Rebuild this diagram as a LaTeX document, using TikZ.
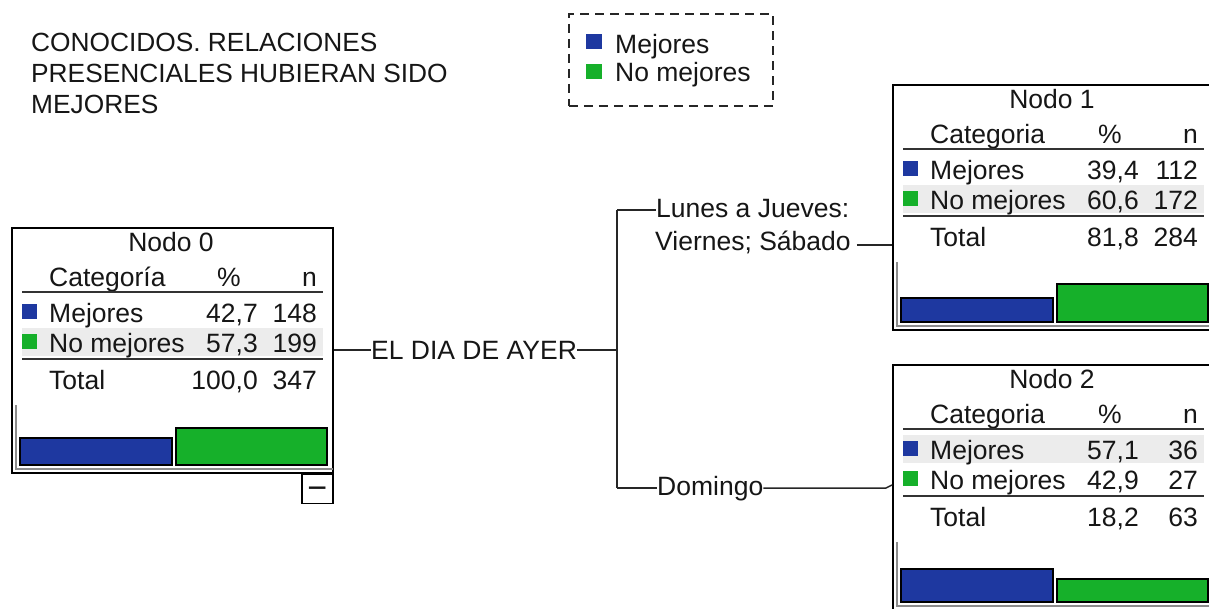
\documentclass[tikz,border=0pt]{standalone}
\usepackage{fontspec}
\setmainfont{Liberation Sans}
\definecolor{barblue}{RGB}{30,56,160}
\definecolor{bargreen}{RGB}{22,176,42}
\definecolor{txtcol}{RGB}{22,22,22}
\definecolor{hlcol}{RGB}{236,236,236}
\newcommand{\pre}{n0}
\newcommand{\nodetitle}{Nodo 0}
\newcommand{\headtxt}{Categoría}
\newcommand{\tabrows}[9]{%
  \fill[hlcol] (11,#7-24) rectangle (312,#7+4);
  \node[tx, anchor=base] (\pre-title) at (160,24) {\nodetitle};
  \node[tx, anchor=base west] (\pre-hc) at (38,59) {\headtxt};
  \node[tx, anchor=base] (\pre-hp) at (218,59) {\%};
  \node[tx, anchor=base east] (\pre-hn) at (306,59) {n};
  \draw[rulel] (11,65) -- (312,65);
  \fill[barblue] (11,77) rectangle (26,92);
  \node[tx, anchor=base west] (\pre-l1) at (38,95) {Mejores};
  \node[tx, anchor=base east] (\pre-p1) at (247,95) {#1};
  \node[tx, anchor=base east] (\pre-n1) at (306,95) {#2};
  \fill[bargreen] (11,107) rectangle (26,122);
  \node[tx, anchor=base west] (\pre-l2) at (38,125) {No mejores};
  \node[tx, anchor=base east] (\pre-p2) at (247,125) {#3};
  \node[tx, anchor=base east] (\pre-n2) at (306,125) {#4};
  \draw[rulel] (11,132) -- (312,132);
  \node[tx, anchor=base west] (\pre-lt) at (38,162) {Total};
  \node[tx, anchor=base east] (\pre-pt) at (247,162) {#5};
  \node[tx, anchor=base east] (\pre-nt) at (306,162) {#6};
  \draw[framel] (5,178) -- (5,242) -- (322,242);
  \draw[barl, fill=barblue] (9,238-#8) rectangle (161,238);
  \draw[barl, fill=bargreen] (165,238-#9) rectangle (316,238);
}
\begin{document}
\begin{tikzpicture}[x=1pt,y=-1pt,
  tx/.style={font=\fontsize{26.5}{31}\selectfont, text=txtcol, inner sep=0pt},
  box/.style={draw=black, line width=1.6pt, rectangle, inner sep=0pt, anchor=north west, fill=white},
  rulel/.style={line width=1.8pt, draw=black!80},
  framel/.style={line width=1.6pt, draw=black!45},
  barl/.style={line width=1.4pt, draw=black},
  conn/.style={line width=1.5pt, draw=black!85}]
\useasboundingbox (0,0) rectangle (1209,608);
\fill[white] (0,0) rectangle (1209,608);

% title
\node[tx, font=\fontsize{26.3}{31}\selectfont, anchor=north west, align=left] (title) at (31,33)
  {CONOCIDOS. RELACIONES\\PRESENCIALES HUBIERAN SIDO\\MEJORES};

% legend
\node[draw=black!85, dashed, dash pattern=on 9pt off 6pt, line width=1.5pt, minimum width=204pt,
  minimum height=92pt, anchor=north west, inner sep=0pt] (legend) at (568,13) {};
\fill[barblue] (586,34) rectangle (602,49);
\node[tx, anchor=base west] (legm) at (615,53) {Mejores};
\fill[bargreen] (586,64) rectangle (602,79);
\node[tx, anchor=base west] (legn) at (615,81) {No mejores};

% node 0
\node[box, minimum width=321pt, minimum height=245pt] (n0) at (11,227) {};
\begin{scope}[shift={(11,227)}]
  \renewcommand{\pre}{n0}\renewcommand{\nodetitle}{Nodo 0}\renewcommand{\headtxt}{Categoría}
  \tabrows{42,7}{148}{57,3}{199}{100,0}{347}{125}{27}{37}
\end{scope}
\node[draw=black, line width=1.6pt, minimum width=31pt, minimum height=29pt, anchor=north east,
  inner sep=0pt] (mbox) at (n0.south east) {};
\node[inner sep=0pt, font=\fontsize{34}{34}\selectfont, text=txtcol] (mminus) at ([yshift=-4pt]mbox.center) {−};

% node 1
\node[box, minimum width=330pt, minimum height=245pt] (n1) at (892,84) {};
\begin{scope}[shift={(892,84)}]
  \renewcommand{\pre}{n1}\renewcommand{\nodetitle}{Nodo 1}\renewcommand{\headtxt}{Categoria}
  \tabrows{39,4}{112}{60,6}{172}{81,8}{284}{125}{24}{38}
\end{scope}

% node 2
\node[box, minimum width=330pt, minimum height=245pt] (n2) at (892,364) {};
\begin{scope}[shift={(892,364)}]
  \renewcommand{\pre}{n2}\renewcommand{\nodetitle}{Nodo 2}\renewcommand{\headtxt}{Categoria}
  \tabrows{57,1}{36}{42,9}{27}{18,2}{63}{95}{33}{23}
\end{scope}

% connectors
\node[tx, anchor=west] (split) at (371,350) {EL DIA DE AYER};
\coordinate (fork) at (617,350);
\coordinate (ftop) at (617,210);
\coordinate (fbot) at (617,488);
\draw[conn] (n0.east |- split.west) -- (split.west);
\draw[conn] (split.east) -- (fork);
\draw[conn] (ftop) -- (fbot);

\node[tx, anchor=base west] (lab1) at (656,217) {Lunes a Jueves:};
\node[tx, anchor=base west] (lab1b) at (655,250) {Viernes; Sábado};
\draw[conn] (ftop) -- (ftop -| lab1.west);
\coordinate (c1) at ([xshift=6pt,yshift=5pt]lab1b.base east);
\draw[conn] (c1) -- (c1 -| n1.west);

\node[tx, anchor=base west] (lab2) at (657,495) {Domingo};
\draw[conn] (fbot) -- (fbot -| lab2.west);
\coordinate (e2) at (fbot -| n2.west);
\draw[conn] (fbot -| lab2.east) -- ([xshift=-6pt]e2) -- ([yshift=3pt]e2);
\end{tikzpicture}
\end{document}
